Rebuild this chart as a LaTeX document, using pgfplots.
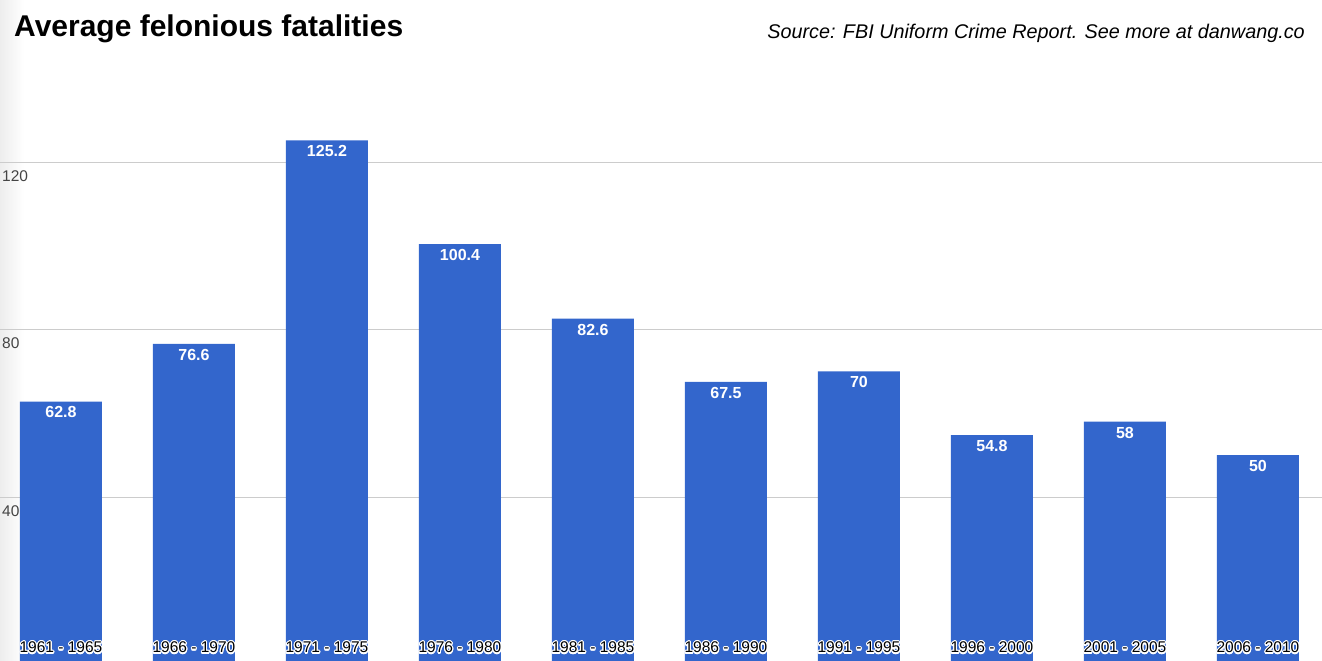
\documentclass[border=0pt]{standalone}
\usepackage{pgfplots}
\pgfplotsset{compat=1.18}
\usepackage{fontspec}
\setmainfont{Liberation Sans}
\usepackage{contour}
\contourlength{1.1pt}
\definecolor{barblue}{HTML}{3366CC}
\definecolor{gridgray}{HTML}{CCCCCC}
\definecolor{ticktext}{HTML}{444444}
\begin{document}
\begin{tikzpicture}
\useasboundingbox (0,0) rectangle (1322pt,661pt);
\shade[left color=black!7, right color=white] (0,0) rectangle (24pt,661pt);
\begin{axis}[
  at={(0,0)}, anchor=south west,
  scale only axis, width=1322pt, height=661pt,
  xmin=-0.4586, xmax=9.481, ymin=0.836, ymax=158.7,
  axis line style={draw=none},
  major tick length=0pt,
  ytick={40,80,120},
  xtick=\empty,
  ymajorgrids, grid style={color=gridgray, line width=1pt},
  /pgf/number format/assume math mode=true,
  yticklabel style={anchor=north west, inner sep=0pt, xshift=2pt, yshift=-8pt,
    font=\fontsize{15.5}{18}\selectfont, text=ticktext},
]
\addplot[ybar, bar width=82pt, fill=barblue, draw=none,
  nodes near coords,
  nodes near coords style={anchor=north, inner sep=0pt, yshift=-5pt,
    font=\bfseries\fontsize{16}{18}\selectfont, text=white}] coordinates {
  (0,62.8) (1,76.6) (2,125.2) (3,100.4) (4,82.6)
  (5,67.5) (6,70) (7,54.8) (8,58) (9,50)
};
\addplot[draw=none, only marks, mark=*, mark size=0pt,
  mark options={draw=none, fill=none, draw opacity=0, fill opacity=0},
  point meta=explicit symbolic,
  nodes near coords={\contour{white}{\pgfplotspointmeta}},
  nodes near coords style={anchor=base, inner sep=0pt, opacity=1, text opacity=1,
    font=\fontsize{15.5}{18}\selectfont, text=black}] coordinates {
  (0,2.75)[1961 - 1965] (1,2.75)[1966 - 1970] (2,2.75)[1971 - 1975]
  (3,2.75)[1976 - 1980] (4,2.75)[1981 - 1985] (5,2.75)[1986 - 1990]
  (6,2.75)[1991 - 1995] (7,2.75)[1996 - 2000] (8,2.75)[2001 - 2005]
  (9,2.75)[2006 - 2010]
};
\end{axis}
\node[anchor=base west, inner sep=0pt, font=\bfseries\fontsize{30}{32}\selectfont] at (14pt,624pt) {Average felonious fatalities};
\node[anchor=base east, inner sep=0pt, font=\itshape\fontsize{19.8}{24}\selectfont] at (1305pt,622pt) {Source: FBI Uniform Crime Report. See more at danwang.co};
\end{tikzpicture}
\end{document}
